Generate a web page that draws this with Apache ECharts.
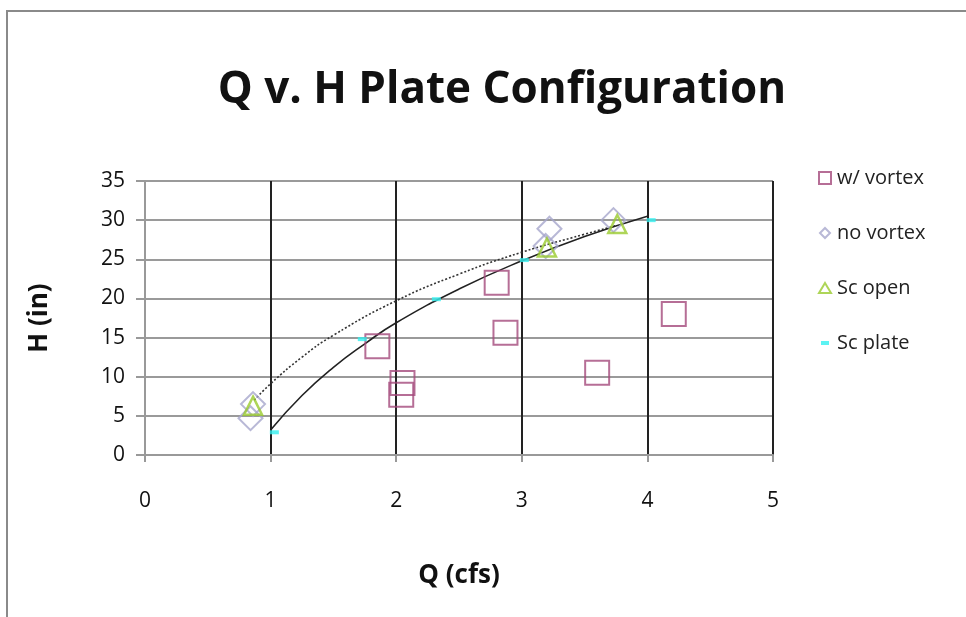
<!DOCTYPE html>
<html>
<head>
<meta charset="utf-8">
<script src="https://cdn.jsdelivr.net/npm/echarts@6/dist/echarts.min.js"></script>
<style>html,body{margin:0;padding:0;background:#fff;}#c{width:966px;height:617px;}</style>
</head>
<body>
<div id="c"></div>
<script>
// Data
const wVortexQ = [1.85, 2.05, 2.04, 2.80, 2.87, 3.60, 4.21];
const wVortexH = [13.9, 9.2, 7.7, 22.0, 15.6, 10.5, 18.0];
const noVortexQ = [0.86, 0.84, 3.22, 3.19, 3.73];
const noVortexH = [6.5, 4.7, 28.9, 26.7, 30.0];
const scOpenQ = [0.86, 3.20, 3.76];
const scOpenH = [6.3, 26.5, 29.5];
const scPlateQ = [1.03, 1.73, 2.32, 3.02, 4.03];
const scPlateH = [2.9, 14.8, 19.9, 24.9, 30.0];
// trend curves
const trendSolidQ = [1.0, 1.25, 1.5, 1.75, 2.0, 2.5, 3.0, 3.5, 4.0];
const trendSolidH = [3.2, 7.6, 11.2, 14.2, 16.9, 21.2, 24.8, 27.9, 30.5];
const trendDotQ = [0.87, 1.0, 1.25, 1.5, 2.0, 2.5, 3.0, 3.5, 3.75];
const trendDotH = [7.0, 9.1, 12.5, 15.3, 19.7, 23.1, 25.9, 28.2, 29.3];
const xTicks = [0, 1, 2, 3, 4, 5];
const yTicks = [0, 5, 10, 15, 20, 25, 30, 35];
const seriesNames = ['w/ vortex', 'no vortex', 'Sc open', 'Sc plate'];

const pairs = (xs, ys) => xs.map((x, i) => [x, ys[i]]);
const FONT = '"Open Sans", "Liberation Sans", sans-serif';

const chart = echarts.init(document.getElementById('c'), null, {renderer: 'canvas'});
chart.setOption({
  backgroundColor: '#ffffff',
  animation: false,
  title: {
    text: 'Q v. H Plate Configuration',
    left: 497, top: 63, textAlign: 'center',
    textStyle: {fontFamily: FONT, fontSize: 44, fontWeight: 'bold', color: '#111'}
  },
  graphic: [{
    type: 'rect', shape: {x: 7, y: 11, width: 1000, height: 700},
    style: {fill: 'none', stroke: '#8a8a8a', lineWidth: 2}, silent: true, z: -1
  }],
  legend: {
    orient: 'vertical', left: 812, top: 162, itemGap: 33,
    itemWidth: 14, itemHeight: 14,
    textStyle: {fontFamily: FONT, fontSize: 20, color: '#222', lineHeight: 22},
    data: [
      {name: seriesNames[0], icon: 'path://M0,0M14,14M1,1L13,1L13,13L1,13Z'},
      {name: seriesNames[1], icon: 'path://M0,0M14,14M7,2L12,7L7,12L2,7Z'},
      {name: seriesNames[2], icon: 'path://M0,0M14,14M7,2L13,12L1,12Z'},
      {name: seriesNames[3], icon: 'path://M0,0M14,14M3,5L11,5L11,9L3,9Z'}
    ]
  },
  grid: {left: 145, right: 193, top: 181, bottom: 162},
  xAxis: {
    type: 'value', min: 0, max: 5, interval: 1,
    name: 'Q (cfs)', nameLocation: 'middle', nameGap: 108,
    nameTextStyle: {fontFamily: FONT, fontSize: 26, fontWeight: 'bold', color: '#111'},
    axisLine: {show: true, lineStyle: {color: '#999', width: 2}},
    axisTick: {show: true, length: 7, lineStyle: {color: '#999', width: 2}},
    axisLabel: {fontFamily: FONT, fontSize: 21, color: '#111', margin: 36,
      formatter: v => xTicks.includes(v) ? String(v) : ''},
    splitLine: {show: true, showMinLine: false, lineStyle: {color: '#222', width: 2}}
  },
  yAxis: {
    type: 'value', min: 0, max: 35, interval: 5,
    name: 'H (in)', nameLocation: 'middle', nameGap: 92, nameRotate: 90,
    nameTextStyle: {fontFamily: FONT, fontSize: 26, fontWeight: 'bold', color: '#111'},
    axisLine: {show: true, lineStyle: {color: '#999', width: 2}},
    axisTick: {show: true, length: 9, lineStyle: {color: '#999', width: 2}},
    axisLabel: {fontFamily: FONT, fontSize: 21, color: '#111', margin: 20,
      formatter: v => yTicks.includes(v) ? String(v) : ''},
    splitLine: {show: true, showMinLine: false, lineStyle: {color: '#9a9a9a', width: 2}}
  },
  series: [
    {name: 'trend dotted', type: 'line', data: pairs(trendDotQ, trendDotH), smooth: true,
      showSymbol: false, lineStyle: {color: '#333', width: 1.6, type: [2, 2]}, z: 3, silent: true},
    {name: 'trend solid', type: 'line', data: pairs(trendSolidQ, trendSolidH), smooth: true,
      showSymbol: false, lineStyle: {color: '#222', width: 1.6}, z: 3, silent: true},
    {name: seriesNames[0], type: 'scatter', data: pairs(wVortexQ, wVortexH), symbol: 'rect', symbolSize: 24,
      itemStyle: {color: 'rgba(0,0,0,0)', borderColor: '#a44a7c', borderWidth: 2}, z: 4},
    {name: seriesNames[1], type: 'scatter', data: pairs(noVortexQ, noVortexH), symbol: 'diamond', symbolSize: 24,
      itemStyle: {color: 'rgba(0,0,0,0)', borderColor: '#a6a6cc', borderWidth: 2}, z: 4},
    {name: seriesNames[2], type: 'scatter', data: pairs(scOpenQ, scOpenH), symbol: 'triangle', symbolSize: [18, 18],
      itemStyle: {color: 'rgba(0,0,0,0)', borderColor: '#9acb2e', borderWidth: 2.5}, z: 5},
    {name: seriesNames[3], type: 'scatter', data: pairs(scPlateQ, scPlateH), symbol: 'rect', symbolSize: [9, 4],
      itemStyle: {color: '#33f0f0'}, z: 6}
  ]
});
</script>
</body>
</html>
